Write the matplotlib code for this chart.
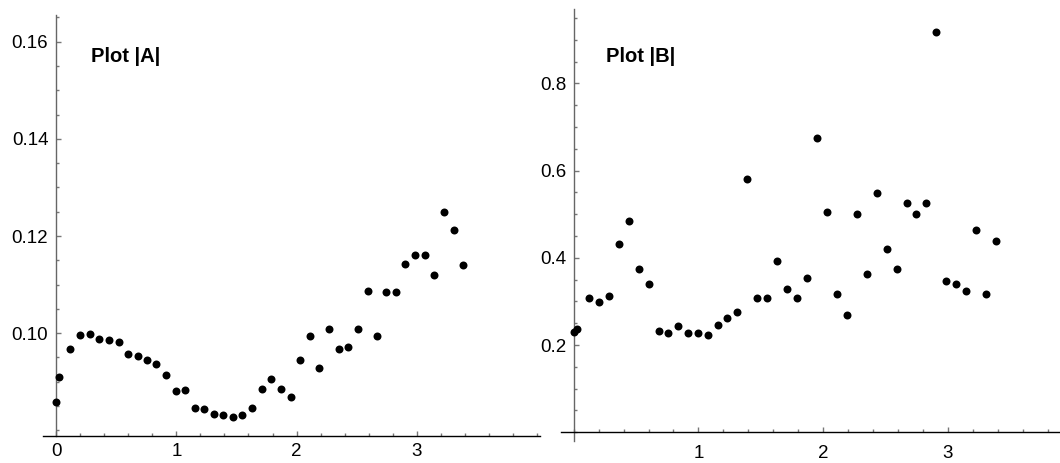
import matplotlib
matplotlib.use("Agg")
import matplotlib.pyplot as plt
from matplotlib.ticker import MultipleLocator, FixedLocator

plt.rcParams['font.family'] = ['Liberation Sans', 'DejaVu Sans']

x_vals = [0, 0.027, 0.12, 0.2, 0.28, 0.36, 0.44, 0.52, 0.60, 0.68, 0.76,
          0.835, 0.915, 0.995, 1.075, 1.155, 1.23, 1.31, 1.39, 1.47, 1.55,
          1.63, 1.71, 1.79, 1.87, 1.95, 2.03, 2.11, 2.19, 2.27, 2.35, 2.43,
          2.51, 2.59, 2.67, 2.745, 2.825, 2.905, 2.985, 3.065, 3.145, 3.225,
          3.305, 3.385]

a_vals = [0.0859, 0.0909, 0.0968, 0.0996, 0.0998, 0.0989, 0.0986, 0.0981,
          0.0958, 0.0954, 0.0944, 0.0936, 0.0913, 0.0882, 0.0884, 0.0846,
          0.0843, 0.0834, 0.0832, 0.0828, 0.0832, 0.0846, 0.0885, 0.0905,
          0.0885, 0.0869, 0.0944, 0.0994, 0.0929, 0.1008, 0.0968, 0.0971,
          0.1008, 0.1087, 0.0994, 0.1084, 0.1084, 0.1143, 0.1161, 0.1161,
          0.1120, 0.1250, 0.1213, 0.1141]

b_vals = [0.229, 0.238, 0.307, 0.298, 0.312, 0.431, 0.484, 0.375, 0.339,
          0.233, 0.227, 0.243, 0.227, 0.227, 0.222, 0.245, 0.263, 0.275,
          0.581, 0.307, 0.307, 0.392, 0.328, 0.309, 0.353, 0.674, 0.506,
          0.316, 0.268, 0.500, 0.362, 0.549, 0.421, 0.375, 0.525, 0.500,
          0.525, 0.919, 0.346, 0.339, 0.323, 0.464, 0.316, 0.438]

title_a = "Plot |A|"
title_b = "Plot |B|"
a_major = [0.10, 0.12, 0.14, 0.16]
a_labels = ["0.10", "0.12", "0.14", "0.16"]
b_major = [0.2, 0.4, 0.6, 0.8]
b_labels = ["0.2", "0.4", "0.6", "0.8"]
xa_major = [0, 1, 2, 3]
xb_major = [1, 2, 3]

W, H = 1060, 463
fig = plt.figure(figsize=(W / 100, H / 100), dpi=100)

def style(ax, xlab_pad):
    for s in ['top', 'right']:
        ax.spines[s].set_visible(False)
    ax.spines['left'].set_position(('data', 0))
    ax.spines['left'].set_color('#666666')
    ax.spines['left'].set_linewidth(1.0)
    ax.spines['bottom'].set_color('#000000')
    ax.spines['bottom'].set_linewidth(1.0)
    ax.xaxis.set_minor_locator(MultipleLocator(0.2))
    ax.tick_params(which='both', direction='in', color='#777777', width=1.0)
    ax.tick_params(which='major', length=3.5, labelsize=13.5)
    ax.tick_params(which='minor', length=2.2)
    ax.tick_params(axis='x', pad=xlab_pad)
    ax.tick_params(axis='y', pad=5.5)
    ax.patch.set_visible(False)

# Left
axA = fig.add_axes([42.7 / W, (H - 435.7) / H, (540 - 42.7) / W, (435.7 - 15) / H])
axA.scatter(x_vals, a_vals, s=33, color='black', linewidths=0, clip_on=False, zorder=3)
axA.set_xlim(-0.1106, 4.023)
axA.set_ylim(0.0789, 0.1655)
style(axA, 5.0)
axA.set_xticks(xa_major)
axA.set_xticklabels([str(v) for v in xa_major])
axA.set_yticks(a_major)
axA.set_yticklabels(a_labels)
axA.yaxis.set_minor_locator(MultipleLocator(0.005))
fig.text(91 / W, (H - 61.7) / H, title_a, fontsize=14.5, fontweight='bold',
         ha='left', va='baseline')

# Right
axB = fig.add_axes([561 / W, (H - 432.3) / H, (1060 - 561) / W, (432.3 - 9.3) / H])
axB.scatter(x_vals, b_vals, s=33, color='black', linewidths=0, clip_on=False, zorder=3)
axB.set_xlim(-0.102, 3.90)
axB.set_ylim(0, 0.97)
style(axB, 9.0)
axB.spines['left'].set_bounds(-0.02, 0.97)
axB.set_xticks(xb_major)
axB.set_xticklabels([str(v) for v in xb_major])
axB.set_yticks(b_major)
axB.set_yticklabels(b_labels)
axB.yaxis.set_minor_locator(MultipleLocator(0.05))
fig.text(605.7 / W, (H - 61.7) / H, title_b, fontsize=14.5, fontweight='bold',
         ha='left', va='baseline')

fig.savefig("out.png", dpi=100)
